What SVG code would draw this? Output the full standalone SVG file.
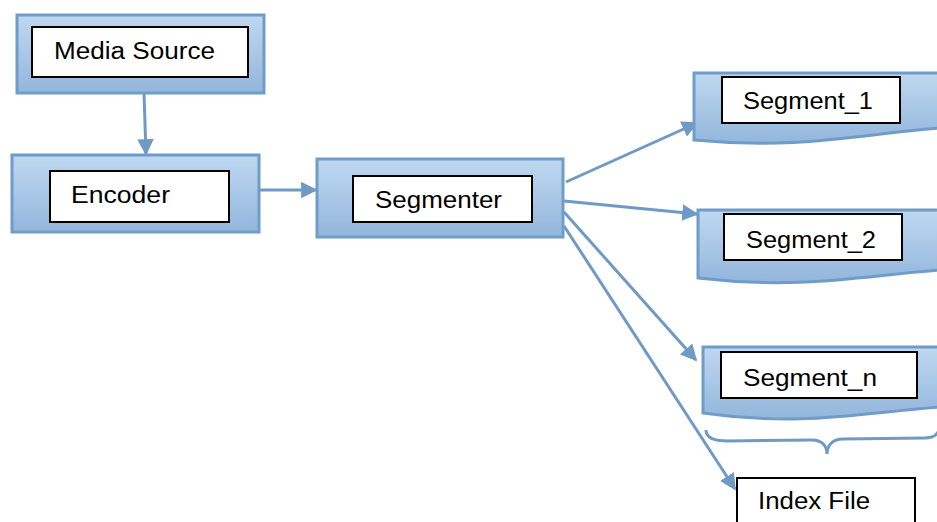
<svg xmlns="http://www.w3.org/2000/svg" width="937" height="522" viewBox="0 0 937 522">
<defs>
<linearGradient id="g" x1="0" y1="0" x2="0" y2="1">
<stop offset="0" stop-color="#bfd8f1"/>
<stop offset="1" stop-color="#93b6dc"/>
</linearGradient>
<marker id="ah" viewBox="0 0 10 10" refX="9" refY="5" markerWidth="5.5" markerHeight="5.5" orient="auto" markerUnits="strokeWidth">
<path d="M0,0 L10,5 L0,10 z" fill="#6f9ac6"/>
</marker>
<style>
.outer{fill:url(#g);stroke:#709cc8;stroke-width:3}
.inner{fill:#fff;stroke:#000;stroke-width:2}
.t{font-family:"Liberation Sans",Arial,sans-serif;font-size:23.5px;fill:#000}
.c{fill:none;stroke:#6f9ac6;stroke-width:3;marker-end:url(#ah)}
.br{fill:none;stroke:#6f9ac6;stroke-width:3}
</style>
</defs>
<g id="connectors">
<line class="c" x1="144" y1="93" x2="146" y2="154"/>
<line class="c" x1="259" y1="190" x2="316" y2="190"/>
<line class="c" x1="566" y1="182" x2="697" y2="123"/>
<line class="c" x1="564" y1="201" x2="697" y2="214"/>
<line class="c" x1="564" y1="212" x2="696" y2="360"/>
<line class="c" x1="564" y1="226" x2="735" y2="489"/>
</g>
<g id="media-source">
<rect class="outer" x="17" y="15" width="247" height="78"/>
<rect class="inner" x="32" y="27" width="216" height="50"/>
<text class="t" x="54" y="59" textLength="161" lengthAdjust="spacingAndGlyphs">Media Source</text>
</g>
<g id="encoder">
<rect class="outer" x="12" y="155" width="247" height="77"/>
<rect class="inner" x="50" y="171" width="179" height="51"/>
<text class="t" x="71" y="203" textLength="99" lengthAdjust="spacingAndGlyphs">Encoder</text>
</g>
<g id="segmenter">
<rect class="outer" x="317" y="159" width="246" height="78"/>
<rect class="inner" x="353" y="176" width="179" height="46"/>
<text class="t" x="375" y="208" textLength="127" lengthAdjust="spacingAndGlyphs">Segmenter</text>
</g>
<g id="segment-1">
<path class="outer" d="M694,73 H940 V128 C860,134 800,150 694,140 Z"/>
<rect class="inner" x="722" y="77" width="178" height="46"/>
<text class="t" x="743" y="109" textLength="130" lengthAdjust="spacingAndGlyphs">Segment_1</text>
</g>
<g id="segment-2">
<path class="outer" d="M698,210 H940 V270 C860,276 800,290 698,278 Z"/>
<rect class="inner" x="724" y="214" width="178" height="46"/>
<text class="t" x="746" y="248" textLength="130" lengthAdjust="spacingAndGlyphs">Segment_2</text>
</g>
<g id="segment-n">
<path class="outer" d="M703,347 H940 V407 C860,413 800,427 703,413 Z"/>
<rect class="inner" x="721" y="352" width="196" height="46"/>
<text class="t" x="743" y="386" textLength="134" lengthAdjust="spacingAndGlyphs">Segment_n</text>
</g>
<g id="brace">
<path class="br" d="M706,430 C706,438 714,441 728,441 L812,440 C822,440 827,446 827,454 C827,446 832,439 843,439 L925,438 C932,438 936,436 938,432"/>
</g>
<g id="index-file">
<rect class="inner" x="737" y="478" width="178" height="52"/>
<text class="t" x="758" y="509" textLength="112" lengthAdjust="spacingAndGlyphs">Index File</text>
</g>
</svg>
